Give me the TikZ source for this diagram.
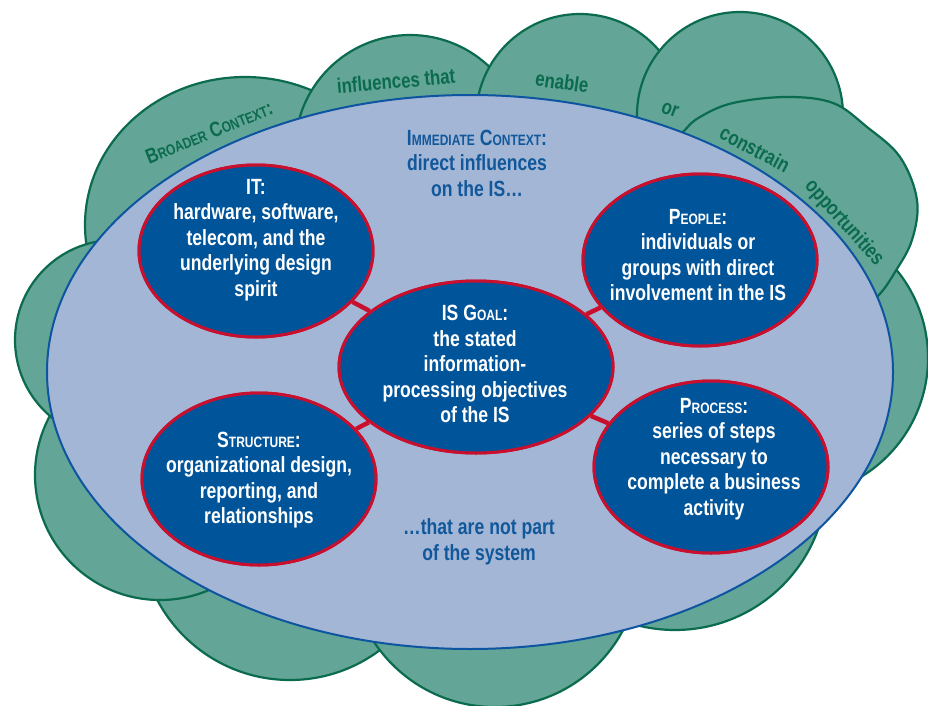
\documentclass[tikz,border=0pt]{standalone}
\usepackage{fontspec}
\setmainfont{Liberation Sans}[FakeStretch=0.8]
\usetikzlibrary{shapes.geometric}
\definecolor{cloudfill}{HTML}{63A596}
\definecolor{cloudline}{HTML}{0B6B4E}
\definecolor{ctxfill}{HTML}{A4B6D6}
\definecolor{ctxline}{HTML}{0D55A0}
\definecolor{elfill}{HTML}{00549A}
\definecolor{elline}{HTML}{C8102E}
\definecolor{bluetxt}{HTML}{11589B}
\definecolor{greentxt}{HTML}{0B6B4E}
\newcommand{\smc}[1]{{\fontsize{15}{15}\selectfont #1}}
\begin{document}
\begin{tikzpicture}[x=1pt,y=-1pt,
  cloudpart/.style={fill=cloudfill,draw=cloudline,line width=2.2pt},
  ctx/.style={ellipse,fill=ctxfill,draw=ctxline,line width=2pt,inner sep=0pt,minimum width=846pt,minimum height=554pt},
  elem/.style={ellipse,fill=elfill,draw=elline,line width=3pt,inner sep=0pt,minimum width=234pt,minimum height=172pt},
  elemtext/.style={text=white,font=\fontsize{22}{25.5}\selectfont\bfseries,align=center,inner sep=0pt},
  ctxtext/.style={text=bluetxt,font=\fontsize{22}{25.5}\selectfont\bfseries,align=center,inner sep=0pt},
  greentext/.style={text=greentxt,font=\fontsize{21}{24}\selectfont\bfseries,inner sep=0pt},
  link/.style={draw=elline,line width=4.5pt}]
\useasboundingbox (0,0) rectangle (928,706);
% broader context cloud
\path[cloudpart] (290,530) circle[radius=150pt];
\path[cloudpart] (495,562) circle[radius=145pt];
\path[cloudpart] (675,478) circle[radius=152pt];
\path[cloudpart] (789,358) circle[radius=139pt];
\path[cloudpart] (160,475) circle[radius=125pt];
\path[cloudpart] (245,225) ellipse[x radius=160pt,y radius=148pt];
\path[cloudpart] (115,340) circle[radius=100pt];
\path[cloudpart] (410,150) circle[radius=115pt];
\path[cloudpart] (580,118) circle[radius=104pt];
\path[cloudpart] (740,115) circle[radius=103pt];
\path[cloudpart] plot[smooth cycle,tension=0.6] coordinates {(650,170) (683,132) (700,117) (733,103) (787,97) (833,103) (867,127) (900,157) (917,200) (912,240) (895,272) (877,297) (840,330) (760,330) (690,250)};
% immediate context
\node[ctx] (ctx) at (470,372) {};
% connectors
\node[elem] (it) at (256,251) {};
\node[elem] (people) at (700,260) {};
\node[elem,minimum width=274pt] (goal) at (476,367) {};
\node[elem] (structure) at (259,479) {};
\node[elem] (process) at (711,467) {};
\draw[link] (it) -- (goal);
\draw[link] (people) -- (goal);
\draw[link] (structure) -- (goal);
\draw[link] (process) -- (goal);
\node[elem] at (it) {};
\node[elem] at (people) {};
\node[elem,minimum width=274pt] at (goal) {};
\node[elem] at (structure) {};
\node[elem] at (process) {};
% texts
\node[elemtext] (ittext) at (256,240) {IT:\\hardware, software,\\telecom, and the\\underlying design\\spirit};
\node[elemtext] (peopletext) at (698,255) {P\smc{EOPLE}:\\individuals or\\groups with direct\\involvement in the IS};
\node[elemtext] (goaltext) at (475,364) {IS G\smc{OAL}:\\the stated\\information-\\processing objectives\\of the IS};
\node[elemtext] (structuretext) at (259,480) {S\smc{TRUCTURE}:\\organizational design,\\reporting, and\\relationships};
\node[elemtext] (processtext) at (714,459) {P\smc{ROCESS}:\\series of steps\\necessary to\\complete a business\\activity};
\node[ctxtext] (ctxtop) at (477,163) {I\smc{MMEDIATE} C\smc{ONTEXT}:\\direct influences\\on the IS\ldots};
\node[ctxtext] (ctxbottom) at (479,542) {\ldots{}that are not part\\of the system};
\node[greentext,rotate=22] (g1) at (209,132) {B\smc{ROADER} C\smc{ONTEXT}:};
\node[greentext,rotate=5] (g2) at (396,81) {influences that};
\node[greentext,rotate=-8] (g3) at (562,82) {enable};
\node[greentext,rotate=-20] (g4) at (670,110) {or};
\node[greentext,rotate=-28] (g5) at (755,149) {constrain};
\node[greentext,rotate=-48] (g6) at (844,223) {opportunities};
\end{tikzpicture}
\end{document}
